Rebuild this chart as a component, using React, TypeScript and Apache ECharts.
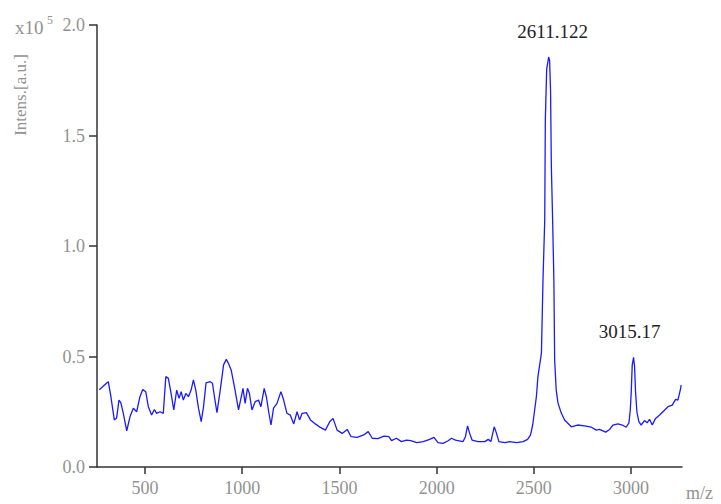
import React, { useEffect, useRef } from "react";
import * as echarts from "echarts";

// m/z values
const mzValues: number[] = [
  265, 303, 311, 323, 342, 354, 366, 376, 388, 406,
  423, 440, 457, 474, 488, 504, 517, 534, 548, 560,
  577, 594, 607, 620, 634, 648, 663, 675, 686, 697,
  710, 723, 737, 749, 761, 775, 789, 801, 814, 835,
  847, 857, 870, 887, 904, 918, 929, 943, 960, 981,
  1004, 1015, 1027, 1037, 1050, 1067, 1084, 1096, 1113, 1124,
  1136, 1148, 1161, 1179, 1199, 1213, 1230, 1247, 1265, 1282,
  1295, 1308, 1330, 1351, 1376, 1402, 1428, 1450, 1467, 1488,
  1514, 1540, 1560, 1591, 1625, 1648, 1669, 1698, 1729, 1754,
  1768, 1793, 1819, 1845, 1867, 1897, 1931, 1964, 1986, 2007,
  2033, 2059, 2076, 2097, 2136, 2148, 2159, 2170, 2182, 2213,
  2248, 2265, 2279, 2296, 2308, 2320, 2351, 2376, 2411, 2445,
  2468,
  2483, 2494, 2513, 2521, 2530, 2539, 2547, 2556, 2559, 2566,
  2576, 2581, 2586, 2590, 2597, 2603, 2607, 2615, 2624, 2641,
  2658, 2693, 2725,
  2761, 2796, 2821, 2838, 2869, 2890, 2907, 2932, 2955, 2975,
  2989, 2996, 3001, 3006, 3013, 3018, 3023, 3030, 3040, 3052,
  3069, 3083, 3095, 3109, 3126, 3147, 3173, 3190, 3212, 3229,
  3241, 3253, 3258,
];

// intensities in units of 1e5 a.u.
const intensity: number[] = [
  0.35, 0.38, 0.386, 0.326, 0.213, 0.222, 0.303, 0.29, 0.244, 0.164,
  0.228, 0.266, 0.25, 0.318, 0.351, 0.34, 0.273, 0.235, 0.26, 0.243,
  0.25, 0.243, 0.409, 0.401, 0.333, 0.258, 0.348, 0.311, 0.341, 0.303,
  0.333, 0.318, 0.348, 0.394, 0.348, 0.266, 0.205, 0.273, 0.381, 0.386,
  0.379, 0.318, 0.246, 0.348, 0.462, 0.487, 0.469, 0.439, 0.363, 0.258,
  0.356, 0.288, 0.356, 0.333, 0.258, 0.296, 0.303, 0.273, 0.356, 0.318,
  0.25, 0.19, 0.266, 0.288, 0.341, 0.303, 0.243, 0.235, 0.195, 0.25,
  0.213, 0.243, 0.246, 0.213, 0.195, 0.179, 0.167, 0.205, 0.22, 0.167,
  0.152, 0.17, 0.137, 0.134, 0.145, 0.16, 0.13, 0.128, 0.14, 0.137,
  0.119, 0.13, 0.115, 0.122, 0.119, 0.11, 0.115, 0.125, 0.134, 0.11,
  0.107, 0.119, 0.13, 0.122, 0.115, 0.137, 0.186, 0.152, 0.122, 0.115,
  0.115, 0.125, 0.115, 0.182, 0.152, 0.115, 0.11, 0.115, 0.11, 0.115,
  0.125,
  0.145, 0.19, 0.318, 0.409, 0.462, 0.516, 0.846, 1.118, 1.57, 1.8,
  1.855, 1.84, 1.7, 1.36, 1.1, 0.846, 0.484, 0.348, 0.29, 0.244,
  0.213, 0.182, 0.19,
  0.186, 0.18, 0.167, 0.17, 0.158, 0.17, 0.19, 0.195, 0.19, 0.18,
  0.2, 0.258, 0.341, 0.462, 0.496, 0.454, 0.341, 0.25, 0.205, 0.19,
  0.21, 0.2, 0.216, 0.19, 0.22, 0.235, 0.258, 0.273, 0.28, 0.306,
  0.303, 0.348, 0.37,
];

const xTicks: number[] = [500, 1000, 1500, 2000, 2500, 3000];
const peakLabels: string[] = ["2611.122", "3015.17"];
const peakRanges: [number, number][] = [[2400, 2800], [2900, 3100]];

const FONT = "Liberation Serif";
const GREY = "#929292";

export default function App() {
  const ref = useRef<HTMLDivElement>(null);

  useEffect(() => {
    if (!ref.current) return;
    const chart = echarts.init(ref.current, undefined, { renderer: "svg" });
    const data = mzValues.map((m, i) => [m, intensity[i]]);

    const peakPoints = peakRanges.map(([lo, hi], k) => {
      let best = -1;
      mzValues.forEach((m, i) => {
        if (m >= lo && m <= hi && (best < 0 || intensity[i] > intensity[best])) best = i;
      });
      return {
        coord: [mzValues[best], intensity[best]],
        symbol: "circle",
        symbolSize: 1,
        itemStyle: { color: "transparent" },
        label: {
          show: true,
          formatter: peakLabels[k],
          position: "inside",
          offset: k === 0 ? [4, -26] : [-4, -26],
          color: "#222",
          fontSize: 19,
          fontFamily: FONT,
        },
      };
    });

    chart.setOption({
      animation: false,
      backgroundColor: "#fff",
      grid: { left: 89, right: 39, top: 17, bottom: 37, containLabel: false },
      xAxis: {
        type: "value",
        min: 253,
        max: 3262,
        axisLine: { show: true, lineStyle: { color: "#333", width: 1.5 } },
        axisTick: { show: true, length: 7, customValues: xTicks, lineStyle: { color: "#333", width: 1.5 } },
        axisLabel: {
          customValues: xTicks,
          color: GREY,
          fontSize: 18,
          fontFamily: FONT,
          margin: 12,
          formatter: (v: number) => String(v),
        },
        splitLine: { show: false },
      },
      yAxis: {
        type: "value",
        min: 0,
        max: 2,
        interval: 0.5,
        axisLine: { show: true, lineStyle: { color: "#333", width: 1.5 } },
        axisTick: { show: true, length: 8, lineStyle: { color: "#333", width: 1.5 } },
        axisLabel: {
          color: GREY,
          fontSize: 18,
          fontFamily: FONT,
          margin: 12,
          formatter: (v: number) => v.toFixed(1),
        },
        splitLine: { show: false },
      },
      series: [
        {
          type: "line",
          data,
          showSymbol: false,
          symbol: "none",
          lineStyle: { color: "#1a1aff", width: 1.3 },
          markPoint: { data: peakPoints, silent: true },
        },
      ],
      graphic: [
        {
          type: "text",
          left: 7,
          top: 10,
          style: { text: "x10", fill: GREY, font: `19px ${FONT}` },
        },
        {
          type: "text",
          left: 39,
          top: 6,
          style: { text: "5", fill: GREY, font: `12px ${FONT}` },
        },
        {
          type: "text",
          x: 4,
          y: 87,
          rotation: Math.PI / 2,
          style: {
            text: "Intens.[a.u.]",
            fill: GREY,
            font: `17px ${FONT}`,
            align: "center",
            verticalAlign: "top",
          },
        },
        {
          type: "text",
          left: 678,
          top: 476,
          style: { text: "m/z", fill: GREY, font: `18px ${FONT}` },
        },
      ],
    });

    return () => chart.dispose();
  }, []);

  return <div ref={ref} style={{ width: 713, height: 496 }} />;
}
